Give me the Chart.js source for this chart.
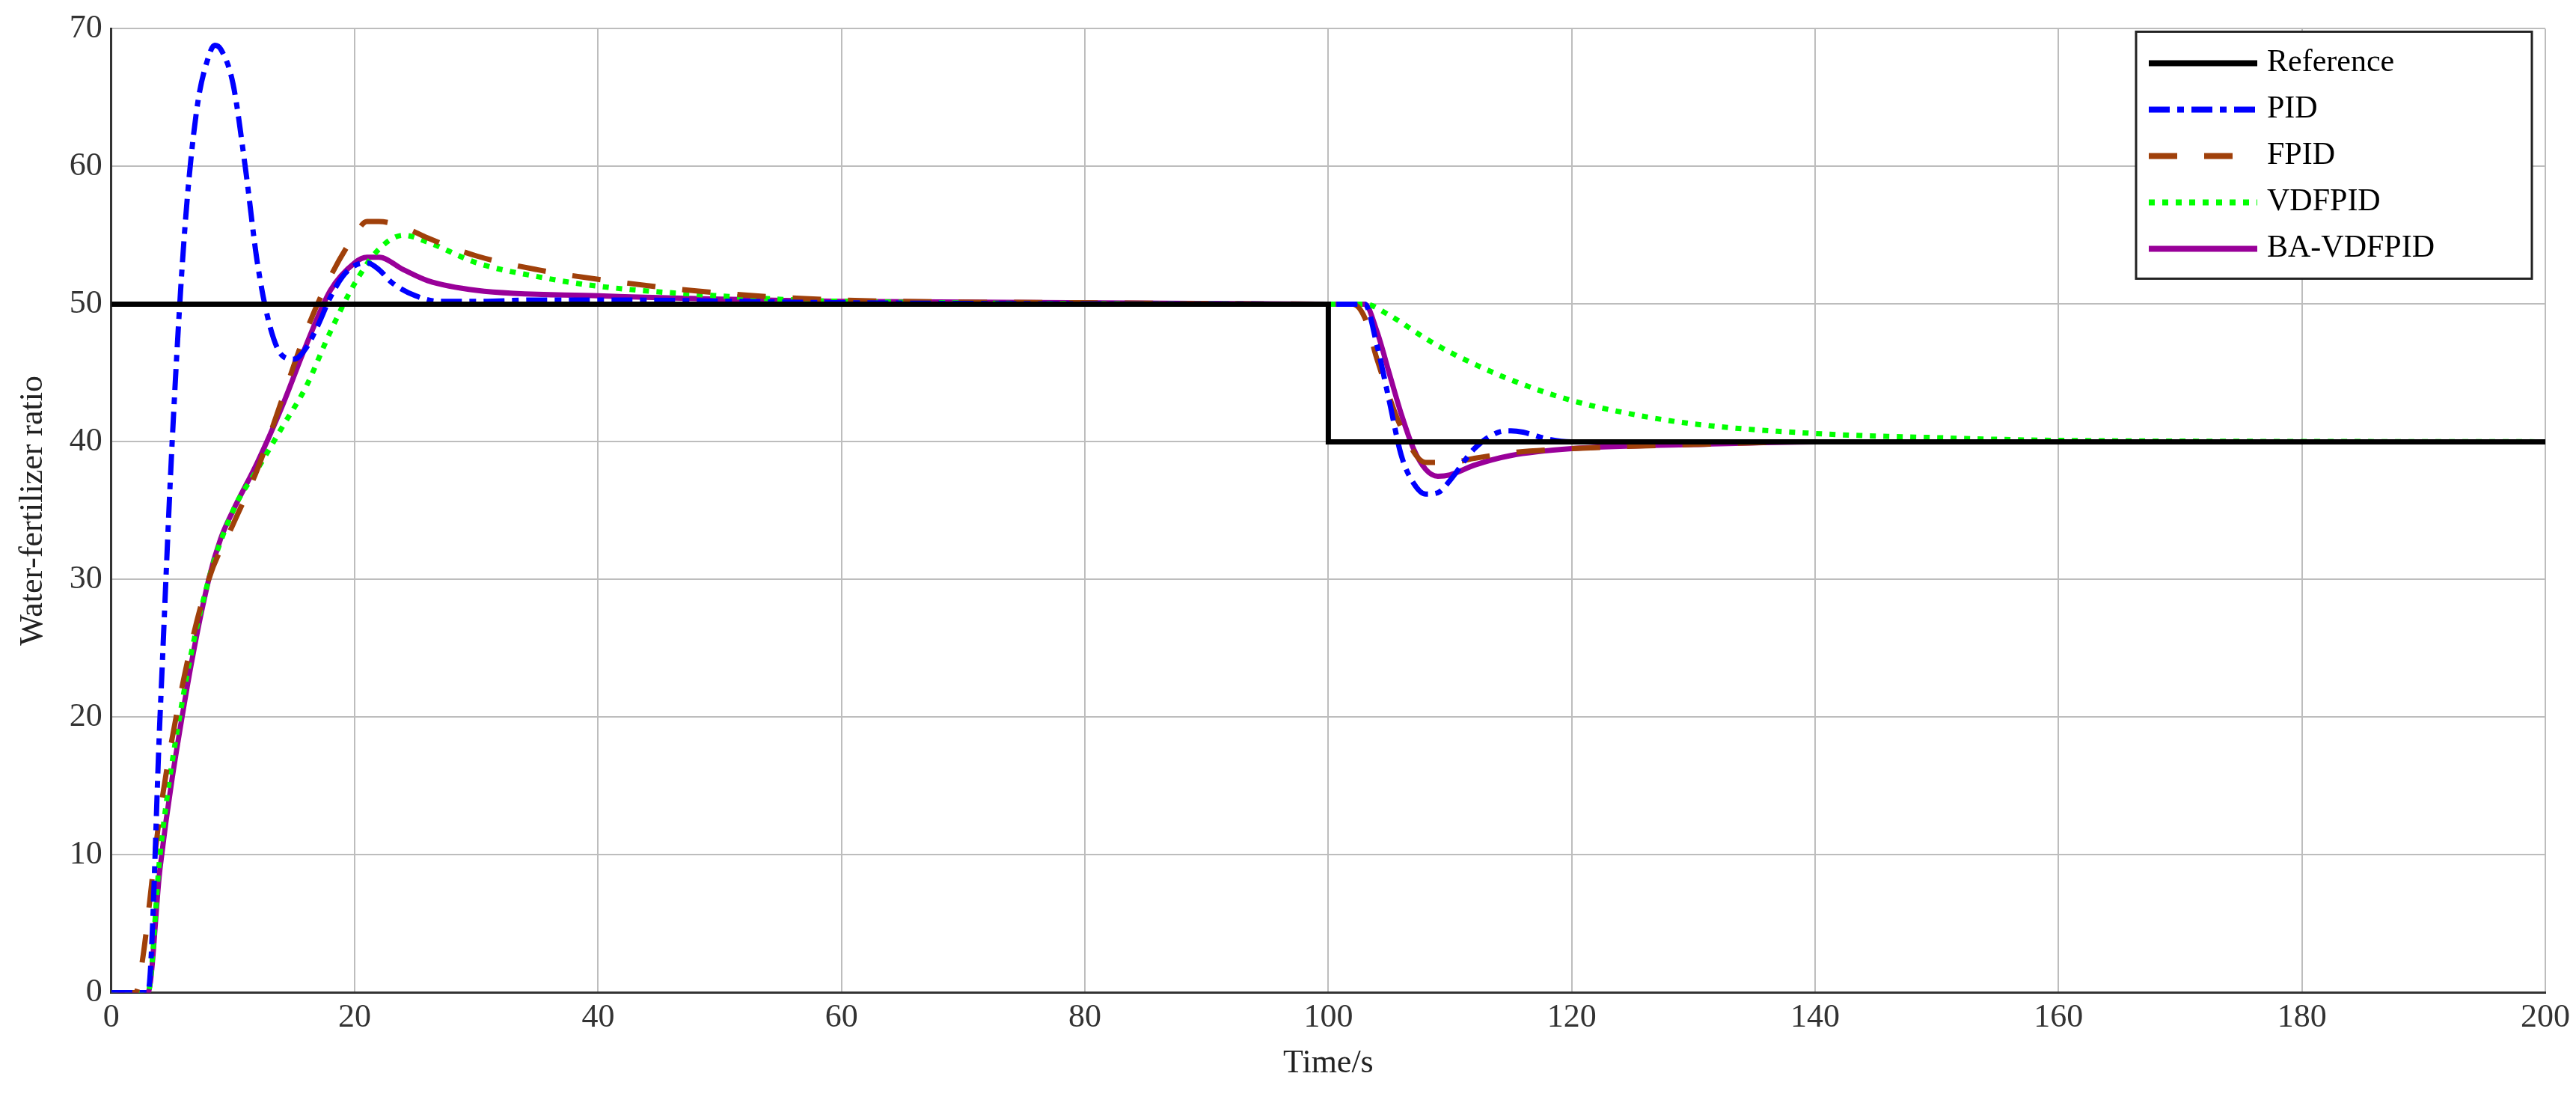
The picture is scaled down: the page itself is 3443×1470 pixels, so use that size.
<!DOCTYPE html>
<html><head><meta charset="utf-8">
<script src="https://cdn.jsdelivr.net/npm/chart.js@4"></script>
<style>html,body{margin:0;padding:0;background:#fff}#w{width:3443px;height:1470px}</style>
</head><body><div id="w"><canvas id="c"></canvas></div>
<script>
const refT=[0,100,100,200];
const refY=[50,50,40,40];
const pidT=[0,3,4,5,6,7,8,8.5,9,10,11,12,13,14,15,16,17,18,19,20,21,22,23,25,27,30,35,40,60,100,103,104,105,106,107,108,109,110,112,114,115,116,118,120,200];
const pidY=[0,0,20,40,55,64,68,68.8,68.5,66,60,53,48.5,46.3,46,46.8,48.5,50.5,52,52.8,53,52.5,51.6,50.6,50.2,50.2,50.3,50.3,50.1,50,50,47,43,39,37,36.2,36.3,37.2,39.5,40.7,40.8,40.7,40.2,40,40];
const fpidT=[0,2,2.5,4,6,8,10,12,14,16,18,20,21,22,24,26,30,35,40,50,60,80,100,102,103,104,106,108,110,112,115,120,130,140,200];
const fpidY=[0,0,2,13,23,30,34,38,43,48,52,55,56,56,55.6,54.8,53.5,52.5,51.8,50.8,50.3,50.1,50,50,49,46,41,38.5,38.5,38.8,39.2,39.5,39.8,40,40];
const vdT=[0,3,4,6,8,10,12,14,16,18,20,22,24,26,30,35,40,50,60,100,103,105,108,110,115,120,125,130,140,150,160,200];
const vdY=[0,0,10,22,30,35,38,41,44,48,51.5,54,55,54.5,53,52,51.3,50.6,50.2,50,50,49.2,47.5,46.5,44.5,43,42,41.3,40.6,40.3,40.1,40];
const baT=[0,3,4,6,8,9,10,12,14,16,18,20,21,22,24,26,30,40,60,100,103,104,105,106,107,108,109,110,112,115,120,130,140,200];
const baY=[0,0,9,21,30,33,35,38.5,42.5,47,51,53,53.4,53.4,52.5,51.7,51,50.6,50.2,50,50,48,45,42,39.5,38,37.5,37.6,38.3,39,39.5,39.8,40,40];
const names=['Reference','PID','FPID','VDFPID','BA-VDFPID'];
const xTicks=[0,20,40,60,80,100,120,140,160,180,200];
const yTicks=[0,10,20,30,40,50,60,70];

const pts=(t,y)=>t.map((v,i)=>({x:v,y:y[i]}));
const styles=[
 {c:'#000000',d:[]},
 {c:'#0000ff',d:[28,10,9,10]},
 {c:'#a0400a',d:[38,36]},
 {c:'#00ff00',d:[8,10]},
 {c:'#990099',d:[]}];
const series=[pts(refT,refY),pts(pidT,pidY),pts(fpidT,fpidY),pts(vdT,vdY),pts(baT,baY)];
const datasets=series.map((d,i)=>({label:names[i],data:d,borderColor:styles[i].c,borderDash:styles[i].d,
 borderWidth:7,pointRadius:0,fill:false,tension:0,cubicInterpolationMode:i===0?'default':'monotone'}));

const legendPlugin={id:'lg',afterDraw(ch){
 const ctx=ch.ctx,a=ch.chartArea;
 const x0=2855,y0=a.top+4,w=a.right-x0-18,h=330;
 ctx.save();ctx.fillStyle='#fff';ctx.fillRect(x0,y0,w,h);
 ctx.strokeStyle='#222';ctx.lineWidth=3;ctx.strokeRect(x0,y0,w,h);
 ctx.font='42px "Liberation Serif"';ctx.textBaseline='middle';
 names.forEach((n,i)=>{const y=y0+42+i*62;
  ctx.beginPath();ctx.setLineDash(styles[i].d);ctx.strokeStyle=styles[i].c;ctx.lineWidth=8;
  ctx.moveTo(x0+17,y);ctx.lineTo(x0+162,y);ctx.stroke();
  ctx.setLineDash([]);ctx.fillStyle='#000';ctx.fillText(n,x0+175,y);});
 ctx.restore();}};

new Chart(document.getElementById('c'),{type:'line',data:{datasets},plugins:[legendPlugin],
options:{responsive:true,maintainAspectRatio:false,animation:false,
 layout:{padding:{left:14,right:40,top:30,bottom:18}},
 plugins:{legend:{display:false},tooltip:{enabled:false}},
 scales:{
  x:{type:'linear',min:0,max:200,afterBuildTicks:s=>{s.ticks=xTicks.map(v=>({value:v}))},
   grid:{color:'#bdbdbd',lineWidth:2,tickLength:0},border:{color:'#333',width:3},
   ticks:{color:'#333',font:{family:'Liberation Serif',size:44},padding:8},
   title:{display:true,text:'Time/s',color:'#222',font:{family:'Liberation Serif',size:44},padding:{top:0}}},
  y:{min:0,max:70,afterBuildTicks:s=>{s.ticks=yTicks.map(v=>({value:v}))},
   grid:{color:'#bdbdbd',lineWidth:2,tickLength:0},border:{color:'#333',width:3},
   ticks:{color:'#333',font:{family:'Liberation Serif',size:44},padding:12},
   title:{display:true,text:'Water-fertilizer ratio',color:'#222',font:{family:'Liberation Serif',size:44},padding:{bottom:10}}}
 }}});
</script></body></html>
